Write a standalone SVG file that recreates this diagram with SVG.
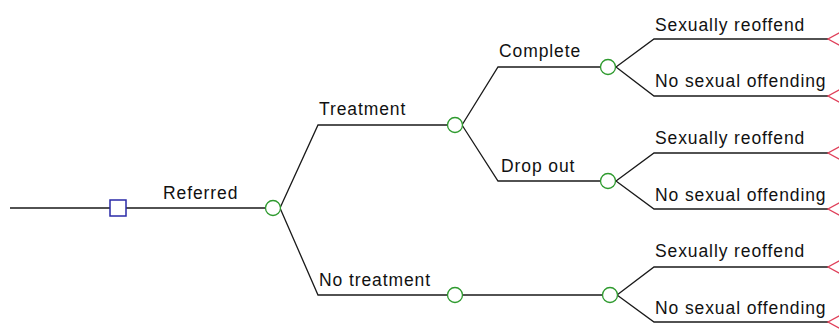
<svg xmlns="http://www.w3.org/2000/svg" width="839" height="329" viewBox="0 0 839 329">
<style>
.e{fill:none;stroke:#1a1a1a;stroke-width:1.3}
.c{fill:#fff;stroke:#2e9a2e;stroke-width:1.3}
.d{fill:#fff;stroke:#2a2aa8;stroke-width:1.5}
.t{fill:none;stroke:#e0405a;stroke-width:1.3}
text{font-family:"Liberation Sans",Arial,sans-serif;font-size:17.5px;letter-spacing:0.9px;fill:#111}
</style>
<rect width="839" height="329" fill="#fff"/>
<g id="connectors">
<path class="e" d="M10 208H110M126 208H266"/>
<path class="e" d="M280 208L318 125H447"/>
<path class="e" d="M280 208L318 295H447M463 295H602"/>
<path class="e" d="M462 125L498 67H600"/>
<path class="e" d="M462 125L498 181H600"/>
<path class="e" d="M616 67L654 39H828M616 67L654 96H828"/>
<path class="e" d="M616 181L654 153H828M616 181L654 209H828"/>
<path class="e" d="M617 295L654 267H828M617 295L654 322H828"/>
</g>
<g id="decision"><rect class="d" x="110" y="200" width="16" height="16"/></g>
<g id="chance-referred"><circle class="c" cx="273" cy="208" r="7.5"/></g>
<g id="chance-treatment"><circle class="c" cx="455" cy="125" r="7.5"/></g>
<g id="chance-notreatment"><circle class="c" cx="455" cy="295" r="7.5"/></g>
<g id="chance-complete"><circle class="c" cx="608" cy="67" r="7.5"/></g>
<g id="chance-dropout"><circle class="c" cx="608" cy="181" r="7.5"/></g>
<g id="chance-nt2"><circle class="c" cx="610" cy="295" r="7.5"/></g>
<g id="terminals">
<path class="t" d="M841 32L828 39L841 46"/>
<path class="t" d="M841 89L828 96L841 103"/>
<path class="t" d="M841 146L828 153L841 160"/>
<path class="t" d="M841 202L828 209L841 216"/>
<path class="t" d="M841 260L828 267L841 274"/>
<path class="t" d="M841 315L828 322L841 329"/>
</g>
<g id="labels">
<text x="163" y="199">Referred</text>
<text x="319" y="115">Treatment</text>
<text x="319" y="286">No treatment</text>
<text x="499" y="57">Complete</text>
<text x="501" y="172">Drop out</text>
<text x="655" y="31">Sexually reoffend</text>
<text x="655" y="87">No sexual offending</text>
<text x="655" y="144">Sexually reoffend</text>
<text x="655" y="201">No sexual offending</text>
<text x="655" y="257">Sexually reoffend</text>
<text x="655" y="314">No sexual offending</text>
</g>
</svg>
